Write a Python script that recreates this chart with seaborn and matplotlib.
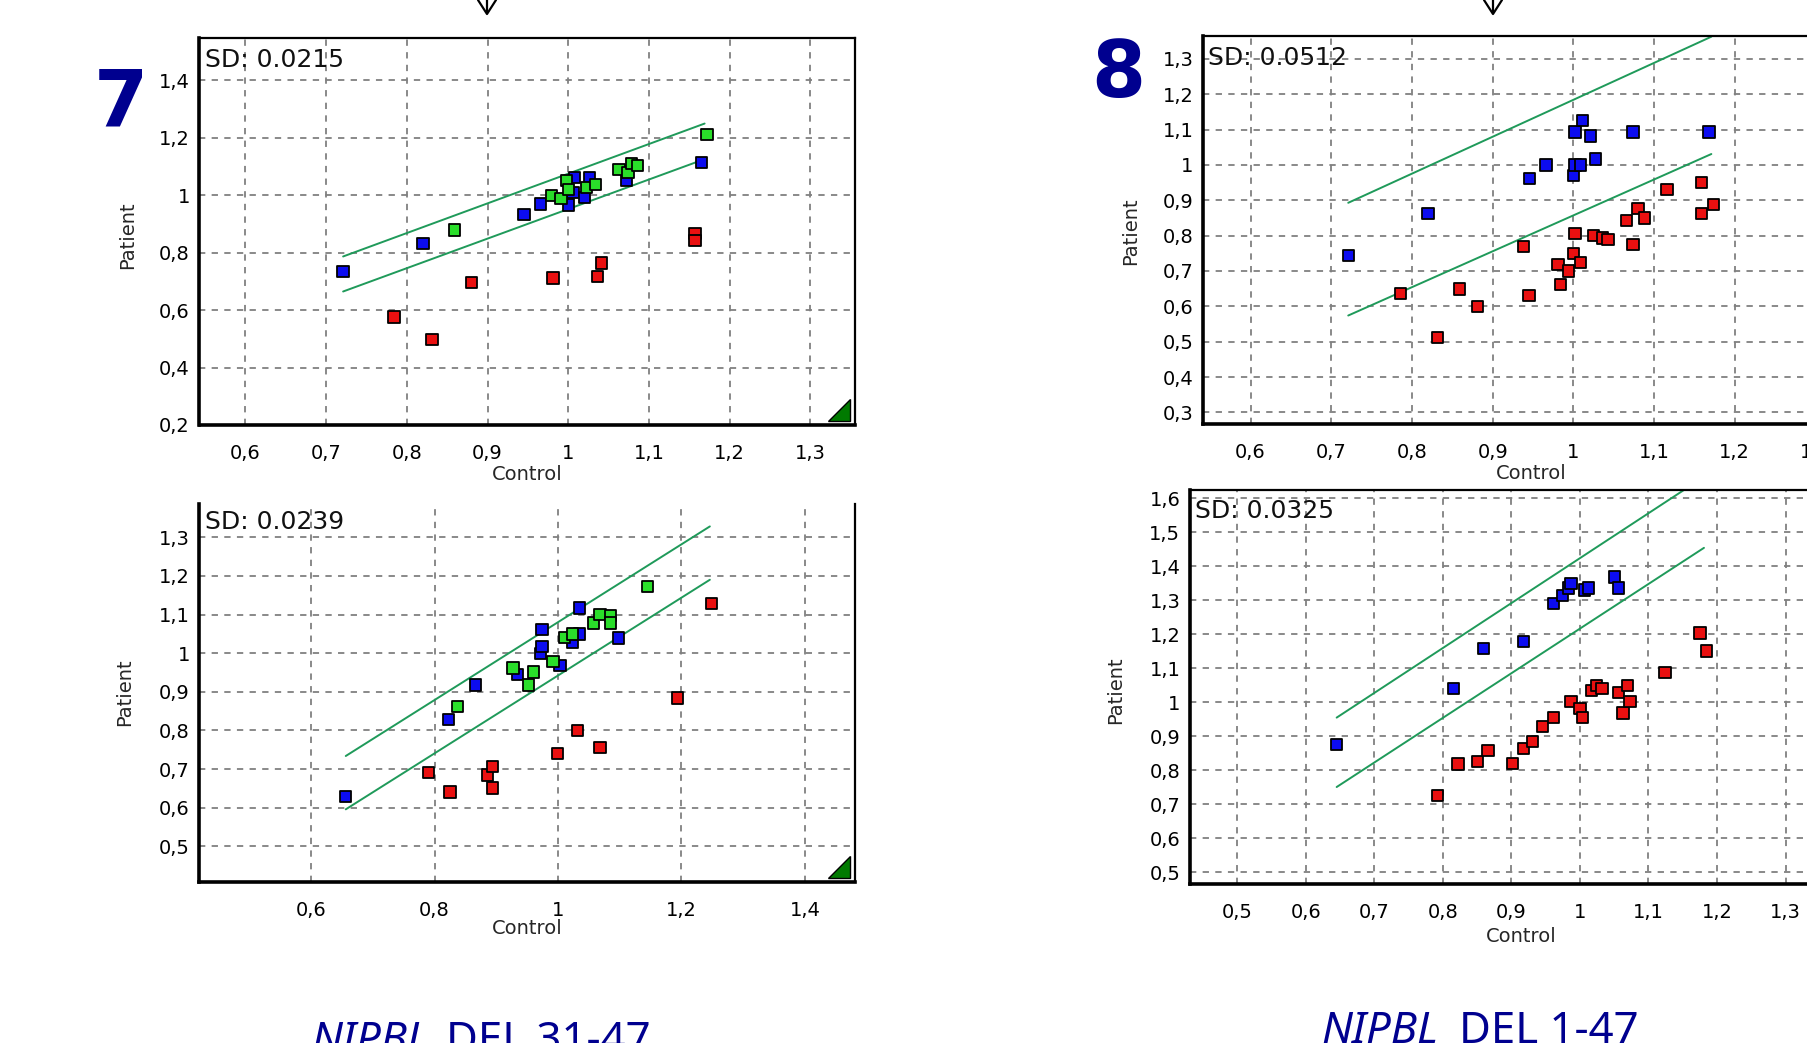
# =========================================================
# plot.py
# Patient vs Control dosage plots (panels 7 and 8)
# =========================================================

import numpy as np
import pandas as pd
import matplotlib
matplotlib.use("Agg")
import matplotlib.pyplot as plt
from matplotlib.ticker import MultipleLocator, FuncFormatter
from matplotlib.patches import Polygon
from matplotlib.lines import Line2D
import seaborn as sns

# =========================================================
# 1. Data
# =========================================================

# panel 7, top
p7_blue_x = [0.721, 0.820, 0.945, 0.966, 1.000, 1.008, 1.026, 1.006, 1.020, 1.072, 1.165]
p7_blue_y = [0.734, 0.832, 0.932, 0.970, 0.966, 1.062, 1.062, 1.010, 0.993, 1.053, 1.114]
p7_green_x = [0.859, 0.979, 0.991, 0.998, 1.000, 1.023, 1.034, 1.063, 1.074, 1.078, 1.086, 1.172]
p7_green_y = [0.879, 1.000, 0.990, 1.051, 1.020, 1.028, 1.038, 1.090, 1.080, 1.112, 1.104, 1.212]
p7_red_x = [0.784, 0.831, 0.880, 0.981, 1.036, 1.041, 1.157, 1.157]
p7_red_y = [0.576, 0.498, 0.697, 0.712, 0.718, 0.764, 0.866, 0.842]
p7_upper_x, p7_upper_y = [0.721, 1.169], [0.787, 1.250]
p7_lower_x, p7_lower_y = [0.721, 1.165], [0.665, 1.122]

# panel 8, top
p8_blue_x = [0.721, 0.820, 0.946, 0.966, 1.000, 1.002, 1.011, 1.021, 1.002, 1.009, 1.027, 1.074, 1.168]
p8_blue_y = [0.743, 0.862, 0.962, 1.000, 0.970, 1.093, 1.125, 1.082, 1.000, 1.000, 1.017, 1.093, 1.093]
p8_red_x = [0.786, 0.832, 0.859, 0.881, 0.938, 0.945, 0.981, 0.984, 0.994, 1.000, 1.002, 1.009,
            1.025, 1.036, 1.043, 1.066, 1.074, 1.080, 1.088, 1.116, 1.159, 1.159, 1.174]
p8_red_y = [0.636, 0.512, 0.649, 0.600, 0.770, 0.631, 0.719, 0.662, 0.700, 0.750, 0.806, 0.725,
            0.800, 0.793, 0.789, 0.843, 0.774, 0.876, 0.850, 0.931, 0.950, 0.862, 0.889]
p8_upper_x, p8_upper_y = [0.721, 1.171], [0.893, 1.363]
p8_lower_x, p8_lower_y = [0.721, 1.171], [0.574, 1.031]

# panel 7, bottom
p7b_blue_x = [0.656, 0.822, 0.866, 0.934, 0.971, 0.974, 0.974, 1.003, 1.023, 1.035, 1.035, 1.098]
p7b_blue_y = [0.629, 0.828, 0.918, 0.945, 1.000, 1.018, 1.061, 0.968, 1.028, 1.050, 1.117, 1.039]
p7b_green_x = [0.837, 0.927, 0.952, 0.960, 0.992, 1.011, 1.023, 1.057, 1.068, 1.085, 1.085, 1.145]
p7b_green_y = [0.862, 0.962, 0.918, 0.951, 0.978, 1.041, 1.050, 1.078, 1.101, 1.097, 1.078, 1.173]
p7b_red_x = [0.790, 0.825, 0.886, 0.894, 0.894, 0.999, 1.032, 1.068, 1.194, 1.249]
p7b_red_y = [0.691, 0.641, 0.685, 0.706, 0.651, 0.740, 0.800, 0.756, 0.884, 1.129]
p7b_upper_x, p7b_upper_y = [0.656, 1.246], [0.734, 1.328]
p7b_lower_x, p7b_lower_y = [0.656, 1.246], [0.596, 1.190]

# panel 8, bottom
p8b_blue_x = [0.645, 0.815, 0.859, 0.918, 0.961, 0.975, 0.983, 0.987, 1.007, 1.013, 1.050, 1.056]
p8b_blue_y = [0.877, 1.041, 1.159, 1.178, 1.290, 1.314, 1.336, 1.350, 1.330, 1.336, 1.368, 1.336]
p8b_red_x = [0.792, 0.822, 0.851, 0.866, 0.902, 0.918, 0.931, 0.945, 0.961, 0.987, 1.000,
             1.004, 1.017, 1.024, 1.032, 1.056, 1.063, 1.069, 1.073, 1.124, 1.175, 1.185]
p8b_red_y = [0.726, 0.819, 0.826, 0.858, 0.821, 0.864, 0.885, 0.928, 0.955, 1.003, 0.982,
             0.955, 1.035, 1.049, 1.041, 1.028, 0.969, 1.049, 1.003, 1.087, 1.204, 1.151]
p8b_upper_x, p8b_upper_y = [0.645, 1.151], [0.955, 1.623]
p8b_lower_x, p8b_lower_y = [0.645, 1.181], [0.751, 1.454]

sd_labels = ["SD: 0.0215", "SD: 0.0512", "SD: 0.0239", "SD: 0.0325"]
panel_numbers = ["7", "8"]
deletion_names = ["DEL 31-47", "DEL 1-47"]

# =========================================================
# 2. Style
# =========================================================

sns.set_style("white")
plt.rcParams["font.family"] = ["DejaVu Sans"]

W, H = 1808, 1043
palette = {"blue": "#0c0cf0", "green": "#2ade2a", "red": "#ea1010"}
line_color = "#1f9a5a"
navy = "#00008f"

fig = plt.figure(figsize=(W / 100, H / 100), dpi=100)


def px_box(left, top, right, bottom):
    # pixel box -> figure fraction [l, b, w, h]
    return [left / W, 1 - bottom / H, (right - left) / W, (bottom - top) / H]


def make_df(bx, by, gx, gy, rx, ry):
    groups = ["blue"] * len(bx) + ["green"] * len(gx) + ["red"] * len(rx)
    return pd.DataFrame({
        "Control": bx + gx + rx,
        "Patient": by + gy + ry,
        "group": groups,
    })


def comma_fmt(v, pos):
    return f"{v:g}".replace(".", ",")


def draw_panel(ax, df, upper, lower, xlim, ylim, xmaj, xmin, ymaj, ymin,
               sd, sd_y, ylab_x, ylab_y, xlab_y, triangle=True, top_spine=True):

    ax.plot(upper[0], upper[1], color=line_color, lw=1.4, zorder=2)
    ax.plot(lower[0], lower[1], color=line_color, lw=1.4, zorder=2)

    sns.scatterplot(
        data=df, x="Control", y="Patient", hue="group",
        palette=palette, marker="s", s=66,
        edgecolor="black", linewidth=1.3,
        legend=False, ax=ax, zorder=3
    )

    ax.set_xlim(*xlim)
    ax.set_ylim(*ylim)

    ax.xaxis.set_major_locator(MultipleLocator(xmaj))
    ax.xaxis.set_minor_locator(MultipleLocator(xmin))
    ax.yaxis.set_major_locator(MultipleLocator(ymaj))
    ax.yaxis.set_minor_locator(MultipleLocator(ymin))
    ax.xaxis.set_major_formatter(FuncFormatter(comma_fmt))
    ax.yaxis.set_major_formatter(FuncFormatter(comma_fmt))

    ax.grid(True, which="major", color="#808080",
            linestyle=(0, (3.5, 3.5)), linewidth=1.3)
    ax.set_axisbelow(True)

    ax.tick_params(axis="both", which="major", direction="inout",
                   length=8, width=1.2, labelsize=14, colors="black")
    ax.tick_params(axis="x", which="major", pad=10)
    ax.tick_params(axis="y", which="major", pad=3)
    ax.tick_params(axis="both", which="minor", direction="out",
                   length=4, width=1.0)

    for side in ["left", "bottom"]:
        ax.spines[side].set_linewidth(2.6)
        ax.spines[side].set_color("black")
    for side in ["top", "right"]:
        ax.spines[side].set_linewidth(1.6)
        ax.spines[side].set_color("black")
    ax.spines["top"].set_visible(top_spine)

    ax.set_xlabel("Control", fontsize=14)
    ax.set_ylabel("Patient", fontsize=14)
    ax.xaxis.set_label_coords(0.5, xlab_y)
    ax.yaxis.set_label_coords(ylab_x, ylab_y)
    ax.yaxis.label.set_va("center")
    ax.xaxis.label.set_va("center")

    ax.text(0.008, sd_y, sd, transform=ax.transAxes, fontsize=18,
            ha="left", va="center", color="#111111")

    if triangle:
        tri = Polygon([(0.958, 0.01), (0.992, 0.01), (0.992, 0.068)],
                      closed=True, transform=ax.transAxes,
                      facecolor="#007a00", edgecolor="black", lw=1.0,
                      zorder=4, clip_on=False)
        ax.add_patch(tri)


# =========================================================
# 3. Panels
# =========================================================

ax7 = fig.add_axes(px_box(199.5, 38, 855.5, 425))
draw_panel(
    ax7,
    make_df(p7_blue_x, p7_blue_y, p7_green_x, p7_green_y, p7_red_x, p7_red_y),
    (p7_upper_x, p7_upper_y), (p7_lower_x, p7_lower_y),
    (0.543, 1.356), (0.2, 1.548), 0.1, 0.025, 0.2, 0.05,
    sd_labels[0], 0.943, -0.109, 0.49, -0.129
)

ax8 = fig.add_axes(px_box(1203, 36, 1859, 424))
draw_panel(
    ax8,
    make_df(p8_blue_x, p8_blue_y, [], [], p8_red_x, p8_red_y),
    (p8_upper_x, p8_upper_y), (p8_lower_x, p8_lower_y),
    (0.541, 1.354), (0.267, 1.365), 0.1, 0.025, 0.1, 0.025,
    sd_labels[1], 0.943, -0.111, 0.497, -0.127, triangle=False
)

ax7b = fig.add_axes(px_box(199.5, 504, 855.5, 882))
draw_panel(
    ax7b,
    make_df(p7b_blue_x, p7b_blue_y, p7b_green_x, p7b_green_y, p7b_red_x, p7b_red_y),
    (p7b_upper_x, p7b_upper_y), (p7b_lower_x, p7b_lower_y),
    (0.419, 1.482), (0.408, 1.386), 0.2, 0.05, 0.1, 0.025,
    sd_labels[2], 0.952, -0.114, 0.503, -0.124, top_spine=False
)

ax8b = fig.add_axes(px_box(1190, 490, 1852, 884))
draw_panel(
    ax8b,
    make_df(p8b_blue_x, p8b_blue_y, [], [], p8b_red_x, p8b_red_y),
    (p8b_upper_x, p8b_upper_y), (p8b_lower_x, p8b_lower_y),
    (0.431, 1.397), (0.466, 1.624), 0.1, 0.025, 0.1, 0.025,
    sd_labels[3], 0.947, -0.112, 0.492, -0.132, triangle=False
)

# =========================================================
# 4. Panel numbers, arrows and deletion names
# =========================================================

fig.text(121 / W, 1 - 104 / H, panel_numbers[0], fontsize=56, fontweight="bold",
         color=navy, ha="center", va="center")
fig.text(1118 / W, 1 - 75 / H, panel_numbers[1], fontsize=56, fontweight="bold",
         color=navy, ha="center", va="center")

for ax_x in [487, 1493]:
    fig.add_artist(Line2D([ax_x / W, ax_x / W], [1.0, 1 - 13 / H],
                          transform=fig.transFigure, color="black", lw=1.6))
    fig.add_artist(Line2D([(ax_x - 9) / W, ax_x / W, (ax_x + 9) / W],
                          [1.0, 1 - 14 / H, 1.0],
                          transform=fig.transFigure, color="black", lw=1.6))

name_font = ["Noto Sans", "DejaVu Sans"]
fig.text(311 / W, 1 - 1053 / H, "NIPBL", fontsize=31.5, style="italic",
         color=navy, ha="left", va="baseline", family=name_font)
fig.text(446 / W, 1 - 1053 / H, deletion_names[0], fontsize=31.5,
         color=navy, ha="left", va="baseline", family=name_font)
fig.text(1321 / W, 1 - 1043 / H, "NIPBL", fontsize=31.5, style="italic",
         color=navy, ha="left", va="baseline", family=name_font)
fig.text(1459 / W, 1 - 1043 / H, deletion_names[1], fontsize=31.5,
         color=navy, ha="left", va="baseline", family=name_font)

fig.savefig("out.png", dpi=100)
